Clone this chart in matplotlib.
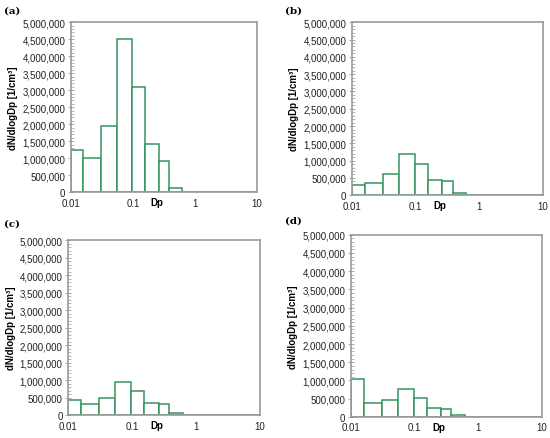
import numpy as np
import matplotlib
matplotlib.use("Agg")
import matplotlib.pyplot as plt
from matplotlib.ticker import FuncFormatter, MultipleLocator

# particle size bin edges (um) shared by all panels
bin_edges = [0.01, 0.0158, 0.0305, 0.0548, 0.0975, 0.155, 0.262, 0.38, 0.617, 10]

# dN/dlogDp per bin, one list per panel
conc_a = [1250000, 1000000, 1950000, 4500000, 3100000, 1430000, 930000, 120000, 12000]
conc_b = [300000, 340000, 600000, 1200000, 900000, 450000, 400000, 70000, 6000]
conc_c = [430000, 330000, 500000, 960000, 690000, 340000, 310000, 50000, 5000]
conc_d = [1040000, 390000, 460000, 780000, 520000, 240000, 230000, 40000, 5000]

panel_labels = ["(a)", "(b)", "(c)", "(d)"]
x_ticks = [0.01, 0.1, 1, 10]
x_ticklabels = ["0.01", "0.1", "1", "10"]

plt.rcParams['font.family'] = ['Liberation Sans', 'DejaVu Sans']

green = "#35935f"
spine_gray = "#9a9a9a"

fig = plt.figure(figsize=(5.5, 4.39), dpi=100)

boxes = [
    [0.129, 0.560, 0.338, 0.387],
    [0.640, 0.553, 0.347, 0.394],
    [0.124, 0.052, 0.349, 0.399],
    [0.638, 0.048, 0.347, 0.415],
]
label_pos = [(0.008, 0.975), (0.518, 0.975), (0.008, 0.490), (0.518, 0.496)]

edges = np.array(bin_edges)
widths = np.diff(edges)

for box, conc, lab, lp in zip(boxes, [conc_a, conc_b, conc_c, conc_d], panel_labels, label_pos):
    ax = fig.add_axes(box)
    ax.bar(edges[:-1], conc, width=widths, align='edge', color='white',
           edgecolor=green, linewidth=1.1, zorder=2)
    ax.set_xscale('log')
    ax.set_xlim(0.01, 10)
    ax.set_ylim(0, 5000000)
    ax.set_xticks(x_ticks)
    ax.set_xticklabels(x_ticklabels)
    ax.xaxis.set_minor_locator(plt.NullLocator())
    ax.yaxis.set_major_locator(MultipleLocator(500000))
    ax.yaxis.set_minor_locator(MultipleLocator(100000))
    ax.yaxis.set_major_formatter(FuncFormatter(lambda v, p: f"{int(v):,}"))
    ax.tick_params(axis='y', which='major', direction='inout', length=4, width=0.6,
                   color=spine_gray, labelsize=7, pad=2, labelcolor='#222222')
    ax.tick_params(axis='y', which='minor', direction='in', length=2, width=0.5,
                   color=spine_gray)
    ax.tick_params(axis='x', which='major', length=0, labelsize=7, pad=4,
                   labelcolor='#222222')
    for s in ax.spines.values():
        s.set_color(spine_gray)
        s.set_linewidth(1.2)
    ax.set_ylabel("dN/dlogDp [1/cm³]", fontsize=7, fontweight='bold', labelpad=3)
    ax.text(0.46, -0.028, "Dp", transform=ax.transAxes, fontsize=7,
            fontweight='bold', ha='center', va='top')
    fig.text(lp[0], lp[1], lab, fontsize=7.5, fontweight='bold',
             family='DejaVu Serif', ha='left', va='center')

fig.savefig("out.png", dpi=100)
